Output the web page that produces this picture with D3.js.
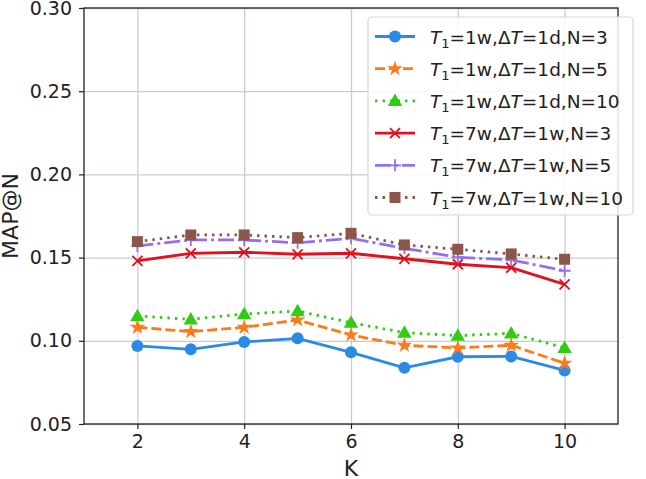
<!DOCTYPE html>
<html>
<head>
<meta charset="utf-8">
<script src="https://cdn.jsdelivr.net/npm/d3@7"></script>
<style>
	body { margin: 0; background: #fff; }
	text { font-family: "DejaVu Sans", sans-serif; fill: #222; }
</style>
</head>
<body>
<svg id="chart" width="646" height="479"></svg>
<script>
const kValues = [2, 3, 4, 5, 6, 7, 8, 9, 10];
const xTicks = [2, 4, 6, 8, 10];
const yTicks = [0.05, 0.10, 0.15, 0.20, 0.25, 0.30];

const s1w1d3 = [0.0969, 0.0949, 0.0993, 0.1015, 0.0931, 0.0838, 0.0904, 0.0906, 0.0822];
const s1w1d5 = [0.1081, 0.1055, 0.1081, 0.1125, 0.1035, 0.0973, 0.0957, 0.0973, 0.0865];
const s1w1d10 = [0.1149, 0.1129, 0.1161, 0.1179, 0.1109, 0.1049, 0.1031, 0.1045, 0.0958];
const s7w1w3 = [0.1481, 0.1526, 0.1532, 0.1520, 0.1526, 0.1493, 0.1460, 0.1439, 0.1339];
const s7w1w5 = [0.1570, 0.1606, 0.1606, 0.1589, 0.1616, 0.1556, 0.1502, 0.1486, 0.1421];
const s7w1w10 = [0.1596, 0.1636, 0.1636, 0.1620, 0.1646, 0.1576, 0.1550, 0.1522, 0.1490];

const t1Labels = ["1w", "1w", "1w", "7w", "7w", "7w"];
const dtLabels = ["1d", "1d", "1d", "1w", "1w", "1w"];
const nLabels = [3, 5, 10, 3, 5, 10];

const series = [
	{values: s1w1d3, color: "#2b8ae6", dash: null, marker: "circle"},
	{values: s1w1d5, color: "#ff7b1a", dash: "10,4", marker: "star"},
	{values: s1w1d10, color: "#33cc14", dash: "2.5,5", marker: "triangle"},
	{values: s7w1w3, color: "#e3101f", dash: null, marker: "x"},
	{values: s7w1w5, color: "#9370f0", dash: "16,4,3,4", marker: "plus"},
	{values: s7w1w10, color: "#8c564b", dash: "2.5,5", marker: "square"}
];

const svg = d3.select("#chart");
const plotLeft = 84, plotRight = 618, plotTop = 8, plotBottom = 424;

const xScale = d3.scaleLinear().domain([1, 11]).range([plotLeft, plotRight]);
const yScale = d3.scaleLinear().domain([0.05, 0.30]).range([plotBottom, plotTop]);

// grid
svg.append("g")
	.attr("transform", `translate(0,${plotBottom})`)
	.call(d3.axisBottom(xScale).tickValues(xTicks).tickSize(-(plotBottom - plotTop)).tickFormat(""))
	.call(g => g.select(".domain").remove())
	.call(g => g.selectAll("line").attr("stroke", "#c6cfcf").attr("stroke-width", 1.3));
svg.append("g")
	.attr("transform", `translate(${plotLeft},0)`)
	.call(d3.axisLeft(yScale).tickValues(yTicks).tickSize(-(plotRight - plotLeft)).tickFormat(""))
	.call(g => g.select(".domain").remove())
	.call(g => g.selectAll("line").attr("stroke", "#c6cfcf").attr("stroke-width", 1.3));

// axes
const xAxis = svg.append("g")
	.attr("transform", `translate(0,${plotBottom})`)
	.call(d3.axisBottom(xScale).tickValues(xTicks).tickSize(5).tickPadding(6).tickSizeOuter(0));
const yAxis = svg.append("g")
	.attr("transform", `translate(${plotLeft},0)`)
	.call(d3.axisLeft(yScale).tickValues(yTicks).tickSize(5).tickPadding(7).tickFormat(d3.format(".2f")).tickSizeOuter(0));
[xAxis, yAxis].forEach(g => {
	g.selectAll("text").style("font-size", "19px").style("font-family", "DejaVu Sans").attr("fill", "#222");
	g.selectAll("line").attr("stroke", "#222").attr("stroke-width", 1.2);
	g.select(".domain").remove();
});

svg.append("rect")
	.attr("x", plotLeft).attr("y", plotTop)
	.attr("width", plotRight - plotLeft).attr("height", plotBottom - plotTop)
	.attr("fill", "none").attr("stroke", "#222").attr("stroke-width", 1.3);

// axis labels
svg.append("text")
	.attr("x", (plotLeft + plotRight) / 2).attr("y", 476)
	.attr("text-anchor", "middle")
	.style("font-size", "22px")
	.text("K");
svg.append("text")
	.attr("transform", `translate(18,${(plotTop + plotBottom) / 2}) rotate(-90)`)
	.attr("text-anchor", "middle")
	.style("font-size", "22px")
	.text("MAP@N");

function drawMarker(g, type, x, y, color) {
	if (type === "circle") {
		g.append("circle").attr("cx", x).attr("cy", y).attr("r", 6).attr("fill", color);
	} else if (type === "square") {
		g.append("rect").attr("x", x - 5.5).attr("y", y - 5.5).attr("width", 11).attr("height", 11).attr("fill", color);
	} else if (type === "triangle") {
		g.append("path").attr("transform", `translate(${x},${y + 1})`)
			.attr("d", d3.symbol(d3.symbolTriangle, 90)()).attr("fill", color);
	} else if (type === "star") {
		g.append("path").attr("transform", `translate(${x},${y})`)
			.attr("d", d3.symbol(d3.symbolStar, 75)()).attr("fill", color);
	} else if (type === "x") {
		g.append("path").attr("d", `M${x - 5},${y - 5}L${x + 5},${y + 5}M${x - 5},${y + 5}L${x + 5},${y - 5}`)
			.attr("stroke", color).attr("stroke-width", 1.8).attr("fill", "none");
	} else if (type === "plus") {
		g.append("path").attr("d", `M${x - 6},${y}L${x + 6},${y}M${x},${y - 6}L${x},${y + 6}`)
			.attr("stroke", color).attr("stroke-width", 1.8).attr("fill", "none");
	}
}

const line = d3.line().x((d, i) => xScale(kValues[i])).y(d => yScale(d));

series.forEach(s => {
	const g = svg.append("g");
	g.append("path")
		.attr("d", line(s.values))
		.attr("fill", "none")
		.attr("stroke", s.color)
		.attr("stroke-width", 2.8)
		.attr("stroke-dasharray", s.dash);
	s.values.forEach((v, i) => drawMarker(g, s.marker, xScale(kValues[i]), yScale(v), s.color));
});

// legend
const legend = svg.append("g");
legend.append("rect")
	.attr("x", 368).attr("y", 17).attr("width", 265).attr("height", 198)
	.attr("rx", 4)
	.attr("fill", "rgba(255,255,255,0.85)")
	.attr("stroke", "#d8d8d8").attr("stroke-width", 1.2);

series.forEach((s, i) => {
	const cy = 36.5 + i * 32.2;
	legend.append("line")
		.attr("x1", 375).attr("x2", 415).attr("y1", cy).attr("y2", cy)
		.attr("stroke", s.color).attr("stroke-width", 2.8)
		.attr("stroke-dasharray", s.dash);
	drawMarker(legend, s.marker, 395, cy, s.color);
	const t = legend.append("text")
		.attr("x", 430).attr("y", cy + 7)
		.style("font-size", "18.5px");
	t.append("tspan").style("font-style", "italic").text("T");
	t.append("tspan").attr("dy", 4).style("font-size", "13px").text("1");
	t.append("tspan").attr("dy", -4).text(`=${t1Labels[i]},Δ`);
	t.append("tspan").style("font-style", "italic").text("T");
	t.append("tspan").text(`=${dtLabels[i]},N=${nLabels[i]}`);
});
</script>
</body>
</html>
